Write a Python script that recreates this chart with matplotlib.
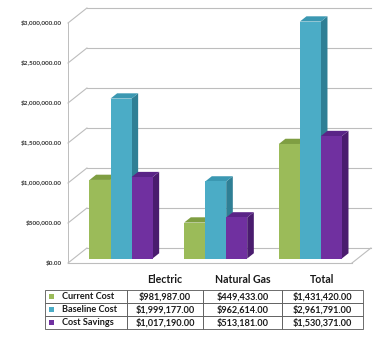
import matplotlib.pyplot as plt
from matplotlib.patches import Polygon, Rectangle
from matplotlib.ticker import FuncFormatter

groups = ["Electric", "Natural Gas", "Total"]
series = ["Current Cost", "Baseline Cost", "Cost Savings"]
current_cost = [981987.00, 449433.00, 1431420.00]
baseline_cost = [1999177.00, 962614.00, 2961791.00]
cost_savings = [1017190.00, 513181.00, 1530371.00]
y_ticks = [0, 500000, 1000000, 1500000, 2000000, 2500000, 3000000]

front_col = ["#9BBB59", "#4BACC6", "#7030A0"]
side_col = ["#728E38", "#2F7F95", "#4A1C6E"]
top_col = ["#7F9E42", "#3B98B2", "#5A2487"]
grid_col = "#BDBDBD"

values = [current_cost, baseline_cost, cost_savings]

# fake 3d: offset of the back wall in data units
DX = 0.2
DY = 187500.0
BAR_W = 0.222
D_FRONT, D_BACK = 0.3, 0.65


def p(x, v, d):
    return (x + d * DX, v + d * DY)


fig = plt.figure(figsize=(3.76, 3.37), dpi=100)
ax = fig.add_axes([68 / 376, 74 / 337, 284 / 376, 240 / 337])
ax.set_xlim(-0.5, 2.5)
ax.set_ylim(0, 3000000)
for s in ax.spines.values():
    s.set_visible(False)
ax.set_xticks([])
ax.set_yticks(y_ticks)
ax.yaxis.set_major_formatter(FuncFormatter(lambda v, pos: "${:,.2f}".format(v)))
ax.tick_params(axis="y", length=0, pad=4.5, labelsize=4.6, labelcolor="#333333")
for lab in ax.get_yticklabels():
    lab.set_family("Lato")
    lab.set_fontweight("bold")

x0, x1 = ax.get_xlim()
ymax = y_ticks[-1]

# walls and floor
for t in y_ticks:
    a, b = p(x0, t, 1), p(x1, t, 1)
    ax.plot([a[0], b[0]], [a[1], b[1]], color=grid_col, lw=0.8, clip_on=False, zorder=1)
    a, b = p(x0, t, 0), p(x0, t, 1)
    ax.plot([a[0], b[0]], [a[1], b[1]], color=grid_col, lw=0.8, clip_on=False, zorder=1)
a, b = p(x0, 0, 0), p(x0, ymax, 0)
ax.plot([a[0], b[0]], [a[1], b[1]], color=grid_col, lw=0.7, clip_on=False, zorder=1)
a, b = p(x0, 0, 0), p(x1, 0, 0)
ax.plot([a[0], b[0]], [a[1], b[1]], color=grid_col, lw=0.8, clip_on=False, zorder=1)
a, b = p(x1, 0, 0), p(x1, 0, 1)
ax.plot([a[0], b[0]], [a[1], b[1]], color=grid_col, lw=0.8, clip_on=False, zorder=1)

# bars: front face, right side and top
for i in range(len(groups)):
    for j in range(len(series)):
        v = values[j][i]
        xl = i - 1.5 * BAR_W + j * BAR_W
        xr = xl + BAR_W
        fr = [p(xl, 0, D_FRONT), p(xr, 0, D_FRONT), p(xr, v, D_FRONT), p(xl, v, D_FRONT)]
        sd = [p(xr, 0, D_FRONT), p(xr, 0, D_BACK), p(xr, v, D_BACK), p(xr, v, D_FRONT)]
        tp = [p(xl, v, D_FRONT), p(xr, v, D_FRONT), p(xr, v, D_BACK), p(xl, v, D_BACK)]
        z = 3 + i * 3 + j
        ax.add_patch(Polygon(sd, closed=True, fc=side_col[j], ec="none", clip_on=False, zorder=z))
        ax.add_patch(Polygon(tp, closed=True, fc=top_col[j], ec="none", clip_on=False, zorder=z))
        ax.add_patch(Polygon(fr, closed=True, fc=front_col[j], ec="none", clip_on=False, zorder=z))

# data table
tax = fig.add_axes([45 / 376, 8 / 337, 318 / 376, 39 / 337])
tax.set_axis_off()
cell_text = []
for j in range(len(series)):
    cell_text.append([""] + ["${:,.2f}".format(v) for v in values[j]])
widths = [82, 76, 79, 81]
tbl = tax.table(cellText=cell_text, colWidths=[w / sum(widths) for w in widths],
                cellLoc="center", bbox=[0, 0, 1, 1])
tbl.auto_set_font_size(False)
tbl.set_fontsize(6.6)
for (r, c), cell in tbl.get_celld().items():
    cell.set_linewidth(0.6)
    cell.set_edgecolor("#555555")
    cell.get_text().set_fontweight("bold")
    cell.get_text().set_family("Lato")
    cell.get_text().set_color("#1a1a1a")

row_h = 1.0 / len(series)
for j, name in enumerate(series):
    yc = 1 - (j + 0.5) * row_h
    tax.add_patch(Rectangle((4 / 318, yc - 0.075), 5 / 318, 0.15, transform=tax.transAxes,
                            fc=front_col[j], ec="none", zorder=5))
    tax.text(17 / 318, yc, name, transform=tax.transAxes, ha="left", va="center",
             fontsize=6.6, fontweight="bold", family="Lato", color="#1a1a1a")

edges = [0]
for w in widths:
    edges.append(edges[-1] + w)
for k, g in enumerate(groups):
    xc = (edges[k + 1] + edges[k + 2]) / 2 / sum(widths)
    tax.text(xc, 1.28, g, transform=tax.transAxes, ha="center", va="center",
             fontsize=7.6, fontweight="bold", family="Lato", color="#1a1a1a")

fig.savefig("out.png", dpi=100)
